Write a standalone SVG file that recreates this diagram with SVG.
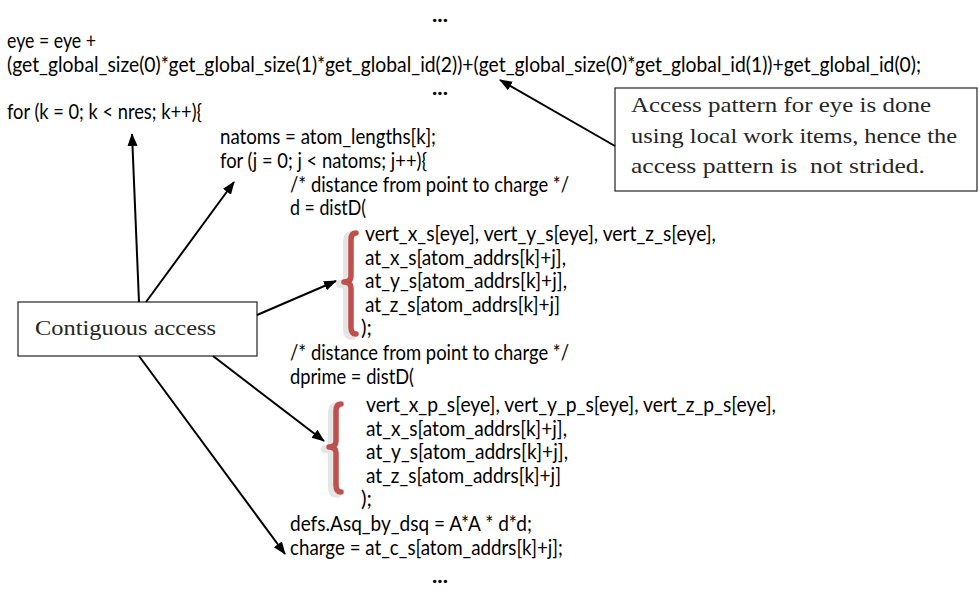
<svg xmlns="http://www.w3.org/2000/svg" width="979" height="590" viewBox="0 0 979 590">
<style>
.code{font-family:Lato,"Liberation Sans","DejaVu Sans",sans-serif;font-size:20.5px;fill:#000}
.dots{font-weight:bold}
.note{font-family:"Liberation Serif","DejaVu Serif",serif;font-size:22px;fill:#262626}
.box{fill:#fff;stroke:#333;stroke-width:1.3}
.arrow{stroke:#000;stroke-width:2;fill:none;marker-end:url(#ah)}
.brace{fill:none;stroke:#C0504D;stroke-width:5.5;stroke-linecap:round;stroke-linejoin:round}
.braceShadow{fill:none;stroke:#d0d0d0;stroke-width:8;stroke-linecap:round;stroke-linejoin:round;opacity:0.55}
</style>
<defs>
<marker id="ah" markerUnits="userSpaceOnUse" markerWidth="14" markerHeight="11" refX="12" refY="5" orient="auto">
<path d="M0,0 L13,5 L0,10 z" fill="#000"/>
</marker>
</defs>
<rect width="979" height="590" fill="#fff"/>
<g id="code">
<text class="code dots" x="432" y="22" textLength="16" lengthAdjust="spacingAndGlyphs">...</text>
<text class="code" x="7" y="48" textLength="89" lengthAdjust="spacingAndGlyphs">eye = eye +</text>
<text class="code" x="7" y="72" textLength="914" lengthAdjust="spacingAndGlyphs">(get_global_size(0)*get_global_size(1)*get_global_id(2))+(get_global_size(0)*get_global_id(1))+get_global_id(0);</text>
<text class="code dots" x="432" y="95" textLength="16" lengthAdjust="spacingAndGlyphs">...</text>
<text class="code" x="7" y="119" textLength="195" lengthAdjust="spacingAndGlyphs">for (k = 0; k &lt; nres; k++){</text>
<text class="code" x="220" y="144" textLength="216" lengthAdjust="spacingAndGlyphs">natoms = atom_lengths[k];</text>
<text class="code" x="220" y="168" textLength="207" lengthAdjust="spacingAndGlyphs">for (j = 0; j &lt; natoms; j++){</text>
<text class="code" x="290" y="192" textLength="279" lengthAdjust="spacingAndGlyphs">/* distance from point to charge */</text>
<text class="code" x="290" y="215" textLength="76" lengthAdjust="spacingAndGlyphs">d = distD(</text>
<text class="code" x="365" y="241" textLength="351" lengthAdjust="spacingAndGlyphs">vert_x_s[eye], vert_y_s[eye], vert_z_s[eye],</text>
<text class="code" x="365" y="265" textLength="201" lengthAdjust="spacingAndGlyphs">at_x_s[atom_addrs[k]+j],</text>
<text class="code" x="365" y="288" textLength="202" lengthAdjust="spacingAndGlyphs">at_y_s[atom_addrs[k]+j],</text>
<text class="code" x="365" y="312" textLength="195" lengthAdjust="spacingAndGlyphs">at_z_s[atom_addrs[k]+j]</text>
<text class="code" x="361" y="335" textLength="11" lengthAdjust="spacingAndGlyphs">);</text>
<text class="code" x="290" y="360" textLength="279" lengthAdjust="spacingAndGlyphs">/* distance from point to charge */</text>
<text class="code" x="290" y="384" textLength="124" lengthAdjust="spacingAndGlyphs">dprime = distD(</text>
<text class="code" x="366" y="412" textLength="410" lengthAdjust="spacingAndGlyphs">vert_x_p_s[eye], vert_y_p_s[eye], vert_z_p_s[eye],</text>
<text class="code" x="366" y="436" textLength="201" lengthAdjust="spacingAndGlyphs">at_x_s[atom_addrs[k]+j],</text>
<text class="code" x="366" y="459" textLength="202" lengthAdjust="spacingAndGlyphs">at_y_s[atom_addrs[k]+j],</text>
<text class="code" x="366" y="483" textLength="195" lengthAdjust="spacingAndGlyphs">at_z_s[atom_addrs[k]+j]</text>
<text class="code" x="361" y="506" textLength="11" lengthAdjust="spacingAndGlyphs">);</text>
<text class="code" x="290" y="531" textLength="242" lengthAdjust="spacingAndGlyphs">defs.Asq_by_dsq = A*A * d*d;</text>
<text class="code" x="290" y="555" textLength="273" lengthAdjust="spacingAndGlyphs">charge = at_c_s[atom_addrs[k]+j];</text>
<text class="code dots" x="432" y="583" textLength="16" lengthAdjust="spacingAndGlyphs">...</text>
</g>
<g id="brace1">
<path class="braceShadow" transform="translate(-4,2)" d="M356,233 Q351,233 351,240 L351,276 Q351,282 344,282 Q351,282 351,288 L351,327 Q351,334 356,334"/>
<path class="brace" d="M356,233 Q351,233 351,240 L351,276 Q351,282 344,282 Q351,282 351,288 L351,327 Q351,334 356,334"/>
</g>
<g id="brace2">
<path class="braceShadow" transform="translate(-4,2)" d="M341,404 Q336,404 336,411 L336,441 Q336,447 329,447 Q336,447 336,453 L336,485 Q336,492 341,492"/>
<path class="brace" d="M341,404 Q336,404 336,411 L336,441 Q336,447 329,447 Q336,447 336,453 L336,485 Q336,492 341,492"/>
</g>
<g id="note-eye">
<rect class="box" x="615" y="88" width="362" height="103"/>
<text class="note" x="631" y="112" textLength="300" lengthAdjust="spacingAndGlyphs">Access pattern for eye is done</text>
<text class="note" x="631" y="143" textLength="326" lengthAdjust="spacingAndGlyphs">using local work items, hence the</text>
<text class="note" x="631" y="173" textLength="294" lengthAdjust="spacingAndGlyphs" xml:space="preserve">access pattern is  not strided.</text>
</g>
<g id="note-contiguous">
<rect class="box" x="18" y="302" width="239" height="54"/>
<text class="note" x="35" y="335" textLength="181" lengthAdjust="spacingAndGlyphs">Contiguous access</text>
</g>
<g id="connectors">
<line class="arrow" x1="139" y1="302" x2="132" y2="134"/>
<line class="arrow" x1="146" y1="302" x2="234" y2="182"/>
<line class="arrow" x1="257" y1="315" x2="336" y2="281"/>
<line class="arrow" x1="213" y1="356" x2="324" y2="441"/>
<line class="arrow" x1="139" y1="356" x2="285" y2="554"/>
<line class="arrow" x1="615" y1="146" x2="500" y2="80"/>
</g>
</svg>
